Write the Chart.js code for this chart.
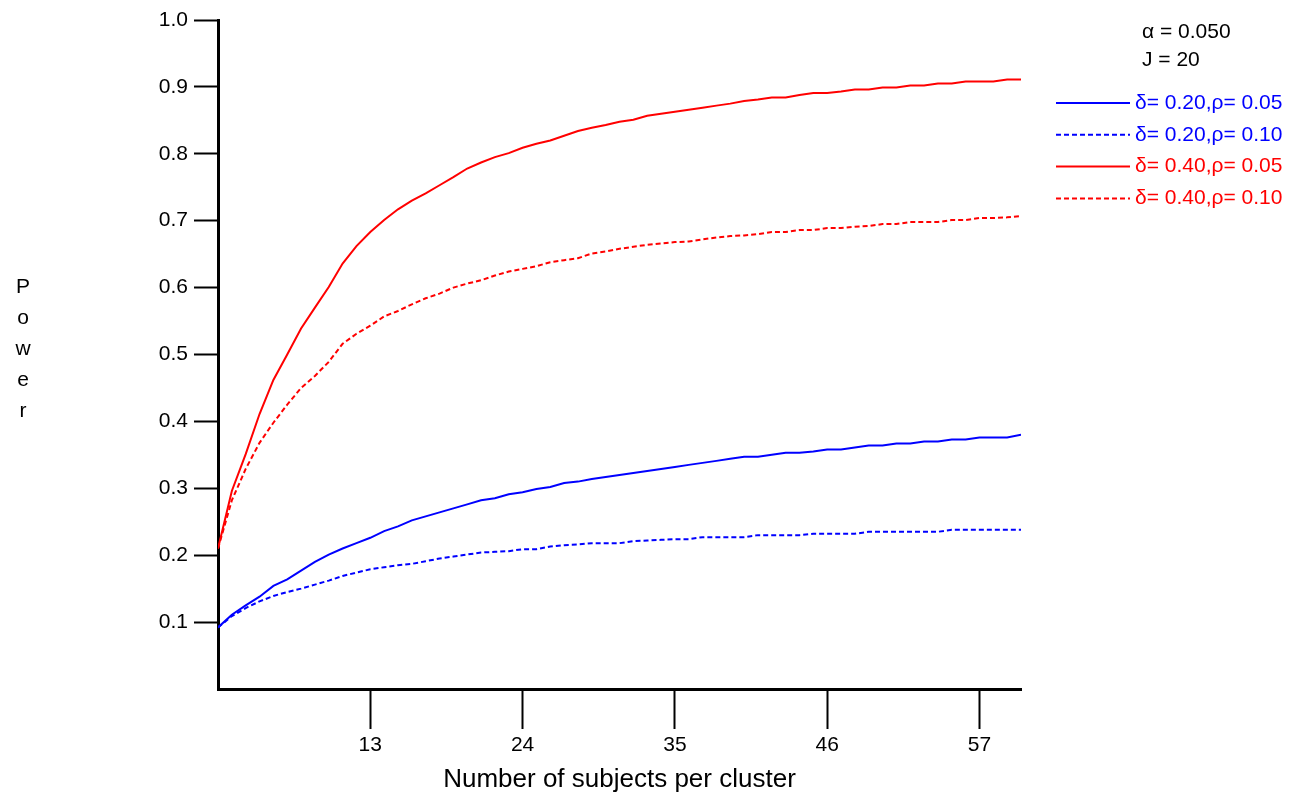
<!DOCTYPE html>
<html>
<head>
<meta charset="utf-8">
<title>Power vs. cluster size</title>
<style>
  html, body { margin: 0; padding: 0; background: #ffffff; }
  #wrap { width: 1293px; height: 796px; position: relative; }
  canvas { display: block; }
</style>
<script src="https://cdn.jsdelivr.net/npm/chart.js@4.4.1/dist/chart.umd.min.js"></script>
</head>
<body>
<div id="wrap"><canvas id="powerChart" width="1293" height="796"></canvas></div>
<script>
// Number of subjects per cluster (x values)
const subjectsPerCluster = [
  2, 3, 4, 5, 6, 7, 8, 9, 10, 11, 12, 13, 14, 15, 16, 17, 18, 19, 20, 21,
  22, 23, 24, 25, 26, 27, 28, 29, 30, 31, 32, 33, 34, 35, 36, 37, 38, 39, 40, 41,
  42, 43, 44, 45, 46, 47, 48, 49, 50, 51, 52, 53, 54, 55, 56, 57, 58, 59, 60
];

// Power, delta = 0.20, rho = 0.05
const powerD20R05 = [
  0.092, 0.111, 0.125, 0.138, 0.154, 0.164, 0.177, 0.190, 0.201, 0.210,
  0.218, 0.226, 0.236, 0.243, 0.252, 0.258, 0.264, 0.270, 0.276, 0.282,
  0.285, 0.291, 0.294, 0.299, 0.302, 0.308, 0.310, 0.314, 0.317, 0.320,
  0.323, 0.326, 0.329, 0.332, 0.335, 0.338, 0.341, 0.344, 0.347, 0.347,
  0.350, 0.353, 0.353, 0.355, 0.358, 0.358, 0.361, 0.364, 0.364, 0.367,
  0.367, 0.370, 0.370, 0.373, 0.373, 0.376, 0.376, 0.376, 0.380
];

// Power, delta = 0.20, rho = 0.10
const powerD20R10 = [
  0.092, 0.109, 0.121, 0.131, 0.139, 0.145, 0.150, 0.156, 0.162, 0.169,
  0.174, 0.179, 0.182, 0.185, 0.187, 0.191, 0.195, 0.198, 0.201, 0.204,
  0.205, 0.206, 0.209, 0.209, 0.213, 0.215, 0.216, 0.218, 0.218, 0.218,
  0.221, 0.222, 0.223, 0.224, 0.224, 0.227, 0.227, 0.227, 0.227, 0.230,
  0.230, 0.230, 0.230, 0.232, 0.232, 0.232, 0.232, 0.235, 0.235, 0.235,
  0.235, 0.235, 0.235, 0.238, 0.238, 0.238, 0.238, 0.238, 0.238
];

// Power, delta = 0.40, rho = 0.05
const powerD40R05 = [
  0.210, 0.296, 0.351, 0.411, 0.462, 0.500, 0.539, 0.570, 0.601, 0.636,
  0.662, 0.683, 0.701, 0.717, 0.730, 0.741, 0.753, 0.765, 0.778, 0.787,
  0.795, 0.801, 0.809, 0.815, 0.820, 0.827, 0.834, 0.839, 0.843, 0.848,
  0.851, 0.857, 0.860, 0.863, 0.866, 0.869, 0.872, 0.875, 0.879, 0.881,
  0.884, 0.884, 0.888, 0.891, 0.891, 0.893, 0.896, 0.896, 0.899, 0.899,
  0.902, 0.902, 0.905, 0.905, 0.908, 0.908, 0.908, 0.911, 0.911
];

// Power, delta = 0.40, rho = 0.10
const powerD40R10 = [
  0.210, 0.282, 0.329, 0.368, 0.398, 0.425, 0.450, 0.468, 0.489, 0.516,
  0.531, 0.543, 0.557, 0.565, 0.575, 0.584, 0.591, 0.600, 0.606, 0.611,
  0.618, 0.624, 0.628, 0.632, 0.638, 0.641, 0.644, 0.651, 0.654, 0.658,
  0.661, 0.664, 0.666, 0.668, 0.669, 0.672, 0.675, 0.677, 0.678, 0.680,
  0.683, 0.683, 0.686, 0.686, 0.689, 0.689, 0.691, 0.692, 0.695, 0.695,
  0.698, 0.698, 0.698, 0.701, 0.701, 0.704, 0.704, 0.705, 0.707
];

const xTickValues = [13, 24, 35, 46, 57];
const yTickValues = [0.1, 0.2, 0.3, 0.4, 0.5, 0.6, 0.7, 0.8, 0.9, 1.0];

const seriesLabels = [
  'δ= 0.20,ρ= 0.05',
  'δ= 0.20,ρ= 0.10',
  'δ= 0.40,ρ= 0.05',
  'δ= 0.40,ρ= 0.10'
];
const designNotes = ['α = 0.050', 'J = 20'];
const xAxisTitle = 'Number of subjects per cluster';
const yAxisTitle = 'Power';

const FONT = '"Liberation Sans", Arial, Helvetica, sans-serif';
Chart.defaults.font.family = FONT;
Chart.defaults.color = '#000000';

const toPoints = values => subjectsPerCluster.map((n, i) => ({ x: n, y: values[i] }));

function series(label, values, color, dash) {
  return {
    label: label,
    data: toPoints(values),
    borderColor: color,
    backgroundColor: color,
    borderWidth: 2,
    borderDash: dash,
    pointRadius: 0,
    pointHoverRadius: 0,
    tension: 0,
    fill: false
  };
}

// Legend block, design notes and the stacked vertical axis title
const sideNotes = {
  id: 'sideNotes',
  afterDraw(chart) {
    const ctx = chart.ctx;
    ctx.save();
    ctx.font = '21px ' + FONT;
    ctx.textBaseline = 'middle';
    ctx.textAlign = 'left';
    ctx.fillStyle = '#000000';
    designNotes.forEach((t, i) => ctx.fillText(t, 1142, 32 + i * 28));

    chart.data.datasets.forEach((ds, i) => {
      const y = 103 + i * 31.8;
      ctx.strokeStyle = ds.borderColor;
      ctx.lineWidth = 2;
      ctx.setLineDash(ds.borderDash || []);
      ctx.beginPath();
      ctx.moveTo(1056, y);
      ctx.lineTo(1130, y);
      ctx.stroke();
      ctx.setLineDash([]);
      ctx.fillStyle = ds.borderColor;
      ctx.fillText(ds.label, 1135, y);
    });

    ctx.fillStyle = '#000000';
    ctx.textAlign = 'center';
    Array.from(yAxisTitle).forEach((ch, i) => ctx.fillText(ch, 23, 287 + i * 31));
    ctx.restore();
  }
};

new Chart(document.getElementById('powerChart'), {
  type: 'line',
  data: {
    datasets: [
      series(seriesLabels[0], powerD20R05, '#0000ff', []),
      series(seriesLabels[1], powerD20R10, '#0000ff', [5, 3]),
      series(seriesLabels[2], powerD40R05, '#ff0000', []),
      series(seriesLabels[3], powerD40R10, '#ff0000', [5, 3])
    ]
  },
  options: {
    responsive: false,
    animation: false,
    devicePixelRatio: 1,
    layout: { padding: { left: 0, right: 272, top: 20, bottom: 0 } },
    plugins: {
      legend: { display: false },
      tooltip: { enabled: false },
      title: { display: false }
    },
    scales: {
      x: {
        type: 'linear',
        min: 2,
        max: 60,
        afterBuildTicks: s => { s.ticks = xTickValues.map(v => ({ value: v })); },
        afterFit: s => { s.height = 107; },
        grid: {
          drawOnChartArea: false,
          drawTicks: true,
          tickLength: 40,
          tickColor: '#000000',
          tickWidth: 2
        },
        border: { display: true, color: '#000000', width: 3 },
        ticks: {
          color: '#000000',
          font: { size: 21 },
          padding: 4,
          maxRotation: 0,
          autoSkip: false
        },
        title: {
          display: true,
          text: xAxisTitle,
          color: '#000000',
          font: { size: 26 },
          padding: { top: 0, bottom: 1 }
        }
      },
      y: {
        type: 'linear',
        min: 0,
        max: 1,
        afterBuildTicks: s => { s.ticks = yTickValues.map(v => ({ value: v })); },
        afterFit: s => { s.width = 218; },
        grid: {
          drawOnChartArea: false,
          drawTicks: true,
          tickLength: 24,
          tickColor: '#000000',
          tickWidth: 2
        },
        border: { display: true, color: '#000000', width: 3 },
        ticks: {
          color: '#000000',
          font: { size: 21 },
          padding: 6,
          autoSkip: false,
          callback: v => Number(v).toFixed(1)
        }
      }
    }
  },
  plugins: [sideNotes]
});
</script>
</body>
</html>
